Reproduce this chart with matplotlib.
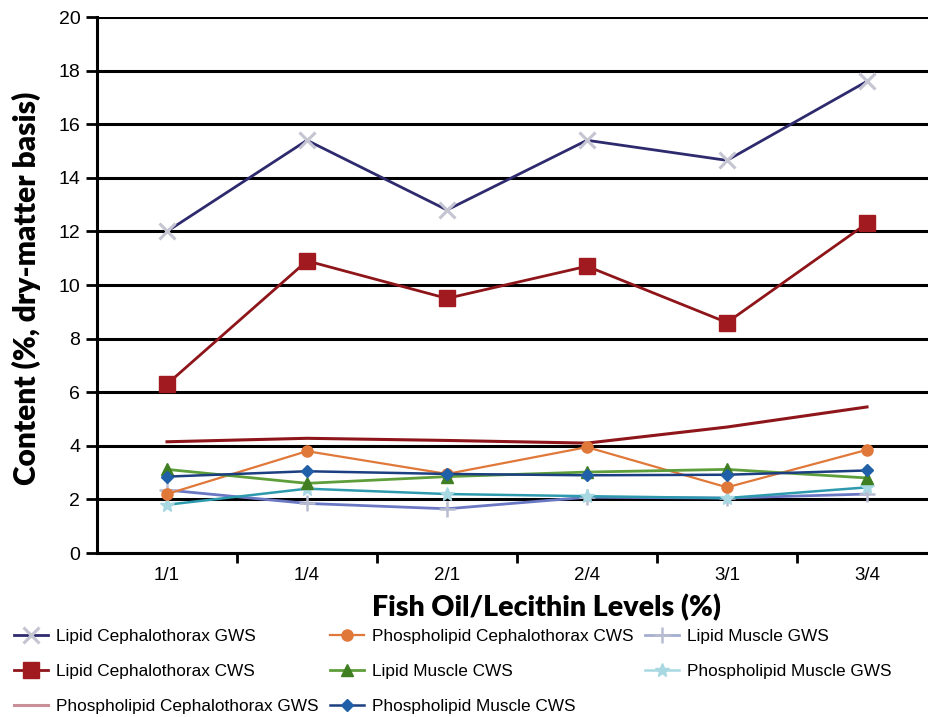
import numpy as np
import matplotlib
matplotlib.use('Agg')
from matplotlib import pyplot as plt

levels = ['1/1', '1/4', '2/1', '2/4', '3/1', '3/4']

lipid_ceph_gws = [12.0, 15.4, 12.8, 15.4, 14.65, 17.6]
lipid_ceph_cws = [6.3, 10.9, 9.5, 10.7, 8.6, 12.3]
phos_ceph_gws = [4.15, 4.28, 4.2, 4.1, 4.7, 5.45]
phos_ceph_cws = [2.2, 3.8, 2.95, 3.95, 2.45, 3.85]
lipid_musc_cws = [3.12, 2.6, 2.85, 3.02, 3.12, 2.8]
phos_musc_cws = [2.85, 3.05, 2.95, 2.9, 2.92, 3.08]
lipid_musc_gws = [2.35, 1.85, 1.65, 2.08, 2.05, 2.2]
phos_musc_gws = [1.8, 2.4, 2.2, 2.12, 2.05, 2.45]

plt.rcParams['font.family'] = ['Liberation Sans', 'DejaVu Sans']

fig = plt.figure(figsize=(9.29, 7.17), dpi=100)
ax = fig.add_axes([97/929, (717-553)/717, (937-97)/929, (553-17)/717])

x = np.arange(len(levels))

ax.plot(x, lipid_ceph_gws, color='#2E2A6E', lw=2, marker='x', ms=11, mew=2.2,
        mec='#C4C4D2', label='Lipid Cephalothorax GWS', zorder=5)
ax.plot(x, lipid_ceph_cws, color='#8E1519', lw=2, marker='s', ms=11,
        mfc='#A01A20', mec='#A01A20', label='Lipid Cephalothorax CWS', zorder=5)
ax.plot(x, phos_ceph_gws, color='#8E1519', lw=2.2,
        label='Phospholipid Cephalothorax GWS', zorder=4)
ax.plot(x, phos_ceph_cws, color='#E0783A', lw=1.6, marker='o', ms=8,
        label='Phospholipid Cephalothorax CWS', zorder=5)
ax.plot(x, lipid_musc_cws, color='#5E9E3A', lw=2, marker='^', ms=9,
        mfc='#3F7F22', mec='#3F7F22', label='Lipid Muscle CWS', zorder=5)
ax.plot(x, phos_musc_cws, color='#1B3F80', lw=1.8, marker='D', ms=6,
        mfc='#1F60A8', mec='#1F60A8', label='Phospholipid Muscle CWS', zorder=5)
ax.plot(x, lipid_musc_gws, color='#6A78C4', lw=2, marker='+', ms=12, mew=1.8,
        mec='#B8BCD0', label='Lipid Muscle GWS', zorder=4)
ax.plot(x, phos_musc_gws, color='#2E9AAE', lw=1.8, marker='*', ms=10,
        mfc='#A8D8E2', mec='#A8D8E2', label='Phospholipid Muscle GWS', zorder=4)

ax.set_xlim(-0.5, 5.5)
ax.set_ylim(0, 20)
ax.set_yticks(np.arange(0, 21, 2))
ax.yaxis.grid(True, color='black', lw=2.2)
ax.set_axisbelow(True)

ax.set_xticks(np.arange(0.5, 5.5, 1))
ax.set_xticklabels([])
ax.set_xticks(x, minor=True)
ax.set_xticklabels(levels, minor=True)
ax.tick_params(axis='x', which='major', direction='out', length=7, width=2)
ax.tick_params(axis='x', which='minor', length=0, pad=10, labelsize=13.5)
ax.tick_params(axis='y', direction='out', length=8, width=2, labelsize=14, pad=4)

for s in ['top', 'right']:
    ax.spines[s].set_visible(False)
ax.spines['left'].set_linewidth(2.2)
ax.spines['bottom'].set_linewidth(2.2)

fig.text(26/929, 1 - 288/717, 'Content (%, dry-matter basis)', rotation=90,
         fontsize=21.5, fontweight='heavy', family=['Lato', 'DejaVu Sans'],
         ha='center', va='center')
fig.text(547/929, 1 - 608/717, 'Fish Oil/Lecithin Levels (%)', fontsize=20.5,
         fontweight='heavy', family=['Lato', 'DejaVu Sans'], ha='center', va='center')

leg = fig.legend(loc='upper left', bbox_to_anchor=(14/929, 1 - 629/717), ncol=3,
                 frameon=False, handlelength=2.0, handletextpad=0.45,
                 columnspacing=0.65, labelspacing=1.15, borderpad=0, borderaxespad=0,
                 prop={'family': ['Liberation Sans', 'DejaVu Sans'], 'size': 12.4})
leg.legend_handles[2].set_color('#C99098')
leg.legend_handles[6].set_color('#A4AED0')
leg.legend_handles[7].set_color('#A8D8E2')

fig.savefig('out.png', dpi=100)
